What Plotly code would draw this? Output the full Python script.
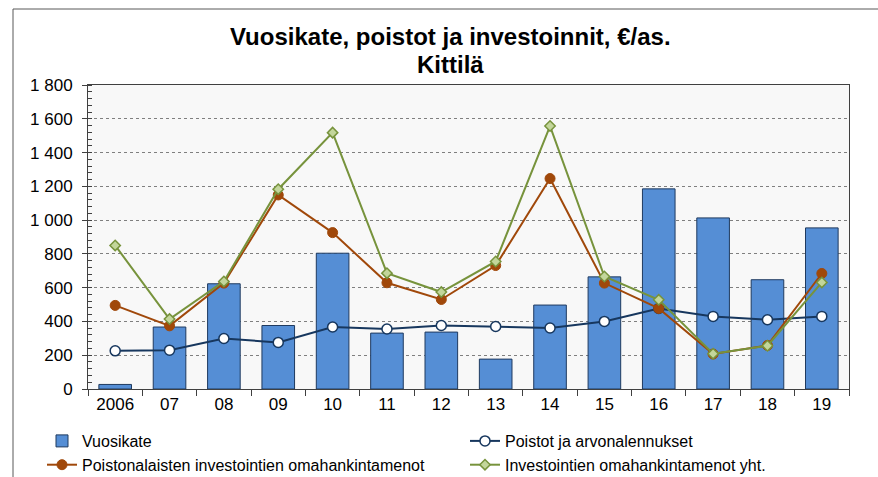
import plotly.graph_objects as go

years = ["2006", "07", "08", "09", "10", "11", "12", "13", "14", "15", "16", "17", "18", "19"]
vuosikate = [27, 367, 623, 376, 804, 331, 337, 177, 497, 664, 1185, 1013, 647, 954]
poistot = [226, 230, 299, 276, 367, 355, 376, 370, 361, 400, 477, 430, 410, 430]
poistonalaiset = [495, 374, 627, 1149, 926, 629, 530, 731, 1246, 627, 477, 207, 258, 684]
investoinnit_yht = [850, 414, 637, 1183, 1518, 686, 574, 755, 1557, 666, 528, 209, 256, 631]

title_lines = ["Vuosikate, poistot ja investoinnit, €/as.", "Kittilä"]

W, H = 878, 477
L, R, T, B = 88, 29, 85, 88
pw, ph = W - L - R, H - T - B

fig = go.Figure()
fig.add_trace(go.Bar(
    x=years, y=vuosikate, name="Vuosikate", legend="legend",
    marker=dict(color="#558ED5", line=dict(color="#1F3A5F", width=1)),
))
fig.add_trace(go.Scatter(
    x=years, y=poistot, name="Poistot ja arvonalennukset", mode="lines+markers", legend="legend2",
    line=dict(color="#17375E", width=2),
    marker=dict(symbol="circle", size=10, color="white", line=dict(color="#17375E", width=1.5)),
))
fig.add_trace(go.Scatter(
    x=years, y=poistonalaiset, name="Poistonalaisten investointien omahankintamenot",
    mode="lines+markers", legend="legend",
    line=dict(color="#A0480A", width=2),
    marker=dict(symbol="circle", size=10, color="#A0480A", line=dict(color="#A0480A", width=1)),
))
fig.add_trace(go.Scatter(
    x=years, y=investoinnit_yht, name="Investointien omahankintamenot yht.",
    mode="lines+markers", legend="legend2",
    line=dict(color="#77933C", width=2),
    marker=dict(symbol="diamond", size=8, color="#C3D69B", line=dict(color="#77933C", width=1.5)),
))

# outer frame (left and top edges)
fx = (13 - L) / pw
fy = (H - B - 9) / ph
fig.add_shape(type="line", xref="paper", yref="paper", x0=fx, x1=fx, y0=-1, y1=fy,
              line=dict(color="#595959", width=1))
fig.add_shape(type="line", xref="paper", yref="paper", x0=fx, x1=1.5, y0=fy, y1=fy,
              line=dict(color="#595959", width=1))

# title lines
for txt, yc in zip(title_lines, [36, 64]):
    fig.add_annotation(
        text="<b>" + txt + "</b>", xref="paper", yref="paper",
        x=(450 - L) / pw, y=(H - B - yc) / ph, xanchor="center", yanchor="middle",
        showarrow=False, font=dict(size=24, color="#000000"),
    )

leg_common = dict(
    orientation="v",
    xref="container", yref="container",
    xanchor="left", yanchor="top",
    font=dict(size=16),
    bgcolor="rgba(0,0,0,0)",
    tracegroupgap=0,
    itemwidth=30,
)

fig.update_layout(
    width=W, height=H,
    margin=dict(l=L, r=R, t=T, b=B, autoexpand=False),
    paper_bgcolor="white",
    plot_bgcolor="#F8F8F8",
    font=dict(family="Liberation Sans, Arial, sans-serif", color="#000000"),
    bargap=0.4,
    showlegend=True,
    legend=dict(x=42 / W, y=1 - 424 / H, **leg_common),
    legend2=dict(x=465 / W, y=1 - 424 / H, **leg_common),
    xaxis=dict(
        type="category",
        range=[-0.5, len(years) - 0.5],
        showline=True, linecolor="#404040", linewidth=1, mirror=True,
        ticks="outside", ticklen=6, tickcolor="#404040", tickson="boundaries",
        tickfont=dict(size=17),
        showgrid=False,
    ),
    yaxis=dict(
        range=[0, 1800], dtick=200,
        tickformat=",d",
        showline=True, linecolor="#404040", linewidth=1, mirror=True,
        ticks="outside", ticklen=5, tickcolor="#404040",
        tickfont=dict(size=17), ticklabelstandoff=6,
        showgrid=True, gridcolor="#7F7F7F", gridwidth=1, griddash="dot",
        minor=dict(dtick=40, ticks="inside", ticklen=4, tickcolor="#404040", showgrid=False),
        zeroline=False,
    ),
    separators=", ",
)

fig.write_html(
    "out.html",
    config={"displayModeBar": False},
    post_script="document.body.style.margin='0';document.body.style.overflow='hidden';",
)
